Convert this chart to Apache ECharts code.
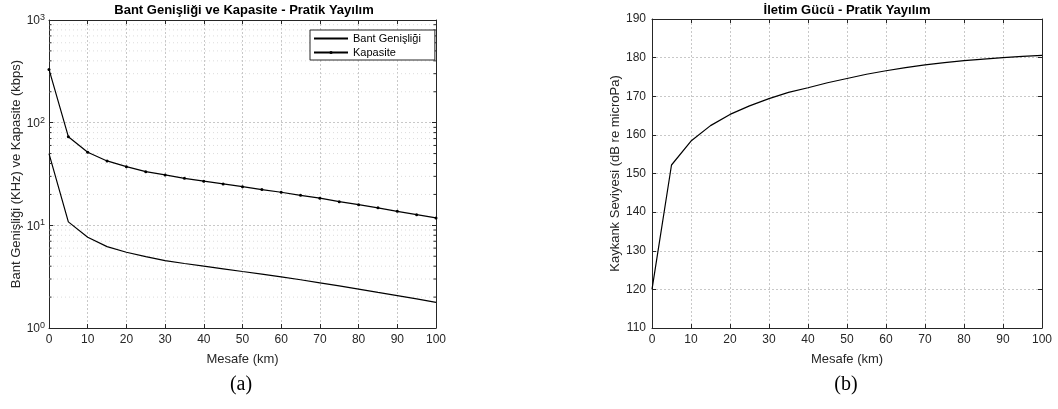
<!DOCTYPE html>
<html><head><meta charset="utf-8">
<script src="https://cdn.jsdelivr.net/npm/echarts@6/dist/echarts.min.js"></script>
<style>html,body{margin:0;padding:0;background:#fff}#c{width:1058px;height:409px}</style>
</head><body><div id="c"></div>
<script>
const distance = [0,5,10,15,20,25,30,35,40,45,50,55,60,65,70,75,80,85,90,95,100];
const kapasite = [330,73,51.5,42.4,37.3,33.3,31.0,28.7,26.9,25.3,23.8,22.3,21.0,19.6,18.4,17.0,15.9,14.8,13.7,12.7,11.8];
const bant = [50,10.8,7.65,6.2,5.47,4.96,4.53,4.25,4.0,3.77,3.55,3.35,3.15,2.95,2.75,2.57,2.39,2.22,2.07,1.92,1.78];
const power = [120,152.2,158.4,162.4,165.3,167.5,169.4,171.0,172.2,173.5,174.6,175.7,176.6,177.4,178.1,178.7,179.2,179.6,180.0,180.3,180.6];
const minorLogValues = [2,3,4,5,6,7,8,9,20,30,40,50,60,70,80,90,200,300,400,500,600,700,800,900];

const TXT = '#262626';
const FONT = 'Liberation Sans, Arial, sans-serif';
const gridLine = {show:true, lineStyle:{color:'#c8c8c8', type:[2,2], width:1}};

function xAxisBottom(gi){
  return {type:'value', gridIndex:gi, min:0, max:100, interval:10, position:'bottom',
    axisLine:{show:true,lineStyle:{color:TXT,width:1}},
    axisTick:{show:true,inside:true,length:4,lineStyle:{color:TXT}},
    axisLabel:{color:TXT,fontSize:12,fontFamily:FONT,margin:6},
    splitLine:gridLine,
    name:'Mesafe (km)', nameLocation:'middle', nameGap:25,
    nameTextStyle:{color:TXT,fontSize:13,fontFamily:FONT}};
}
function xAxisTop(gi){
  return {type:'value', gridIndex:gi, min:0, max:100, interval:10, position:'top',
    axisLine:{show:true,onZero:false,lineStyle:{color:TXT,width:1}},
    axisTick:{show:true,inside:true,length:4,lineStyle:{color:TXT}},
    axisLabel:{show:false}, splitLine:{show:false}};
}
const pow = ['0','1','2','3'];
const chart = echarts.init(document.getElementById('c'), null, {renderer:'canvas'});
chart.setOption({
  animation:false,
  backgroundColor:'#fff',
  grid:[
    {left:49, right:622, top:20, bottom:81, containLabel:false},
    {left:652, right:16, top:19, bottom:81, containLabel:false}
  ],
  xAxis:[xAxisBottom(0), xAxisTop(0), xAxisBottom(1), xAxisTop(1)],
  yAxis:[
    {type:'log', gridIndex:0, logBase:10, min:1, max:1000, position:'left',
      axisLine:{show:true,onZero:false,lineStyle:{color:TXT,width:1}},
      axisTick:{show:true,inside:true,length:4,lineStyle:{color:TXT}},
      axisLabel:{color:TXT,fontFamily:FONT,margin:4,
        formatter:v=>'{b|10}{s|'+pow[Math.round(Math.log10(v))]+'}',
        rich:{b:{fontSize:12,fontFamily:FONT,color:TXT,lineHeight:14,verticalAlign:'bottom'},
              s:{fontSize:9,fontFamily:FONT,color:TXT,lineHeight:14,verticalAlign:'top',padding:[0,0,6,0]}}},
      splitLine:gridLine,
      name:'Bant Genişliği (KHz) ve Kapasite (kbps)', nameLocation:'middle', nameGap:25,
      nameTextStyle:{color:TXT,fontSize:13,fontFamily:FONT}},
    {type:'log', gridIndex:0, logBase:10, min:1, max:1000, position:'right',
      axisLine:{show:true,onZero:false,lineStyle:{color:TXT,width:1}},
      axisTick:{show:true,inside:true,length:4,lineStyle:{color:TXT}},
      axisLabel:{show:false}, splitLine:{show:false}},
    {type:'value', gridIndex:1, min:110, max:190, interval:10, position:'left',
      axisLine:{show:true,onZero:false,lineStyle:{color:TXT,width:1}},
      axisTick:{show:true,inside:true,length:4,lineStyle:{color:TXT}},
      axisLabel:{color:TXT,fontSize:12,fontFamily:FONT,margin:6},
      splitLine:gridLine,
      name:'Kaykank Seviyesi (dB re microPa)', nameLocation:'middle', nameGap:26,
      nameTextStyle:{color:TXT,fontSize:13,fontFamily:FONT}},
    {type:'value', gridIndex:1, min:110, max:190, interval:10, position:'right',
      axisLine:{show:true,onZero:false,lineStyle:{color:TXT,width:1}},
      axisTick:{show:true,inside:true,length:4,lineStyle:{color:TXT}},
      axisLabel:{show:false}, splitLine:{show:false}}
  ],
  legend:{
    left:310, top:30, orient:'vertical', itemWidth:34, itemHeight:4, itemGap:3,
    padding:[3,14,2,3], borderColor:TXT, borderWidth:1, backgroundColor:'#fff',
    textStyle:{color:'#000',fontSize:11,fontFamily:FONT},
    data:[
      {name:'Bant Genişliği', itemStyle:{color:'rgba(0,0,0,0)', borderWidth:0}},
      {name:'Kapasite'}
    ], z:10
  },
  graphic:[
    {type:'text', x:244, y:10, style:{text:'Bant Genişliği ve Kapasite - Pratik Yayılım', font:'bold 13px '+FONT, fill:'#000', textAlign:'center', textVerticalAlign:'middle'}},
    {type:'text', x:847, y:10, style:{text:'İletim Gücü - Pratik Yayılım', font:'bold 13px '+FONT, fill:'#000', textAlign:'center', textVerticalAlign:'middle'}},
    {type:'text', x:241, y:385, style:{text:'(a)', font:'20px Liberation Serif, Times New Roman, serif', fill:'#000', textAlign:'center', textVerticalAlign:'middle'}},
    {type:'text', x:846, y:385, style:{text:'(b)', font:'20px Liberation Serif, Times New Roman, serif', fill:'#000', textAlign:'center', textVerticalAlign:'middle'}}
  ],
  series:[
    {type:'custom', xAxisIndex:0, yAxisIndex:0, silent:true, z:1,
      data:minorLogValues.map(v=>[0,v]), encode:{x:0,y:1},
      renderItem:function(params, api){
        const v = api.value(1);
        const p0 = api.coord([0, v]);
        const p1 = api.coord([100, v]);
        return {type:'group', children:[
          {type:'line', shape:{x1:p0[0],y1:p0[1],x2:p1[0],y2:p1[1]}, style:{stroke:'#dcdcdc', lineWidth:1, lineDash:[1,3]}},
          {type:'line', shape:{x1:p0[0],y1:p0[1],x2:p0[0]+2.5,y2:p0[1]}, style:{stroke:TXT, lineWidth:1}},
          {type:'line', shape:{x1:p1[0]-2.5,y1:p1[1],x2:p1[0],y2:p1[1]}, style:{stroke:TXT, lineWidth:1}}
        ]};
      }},
    {name:'Bant Genişliği', type:'line', xAxisIndex:0, yAxisIndex:0, z:5,
      data:distance.map((d,i)=>[d,bant[i]]), symbol:'none',
      lineStyle:{color:'#000',width:1.2}, itemStyle:{color:'#000'}},
    {name:'Kapasite', type:'line', xAxisIndex:0, yAxisIndex:0, z:5,
      data:distance.map((d,i)=>[d,kapasite[i]]), symbol:'circle', symbolSize:3, showSymbol:true,
      lineStyle:{color:'#000',width:1.2}, itemStyle:{color:'#000'}},
    {name:'İletim Gücü', type:'line', xAxisIndex:2, yAxisIndex:2, z:5,
      data:distance.map((d,i)=>[d,power[i]]), symbol:'none',
      lineStyle:{color:'#000',width:1.2}, itemStyle:{color:'#000'}}
  ]
});
</script></body></html>
